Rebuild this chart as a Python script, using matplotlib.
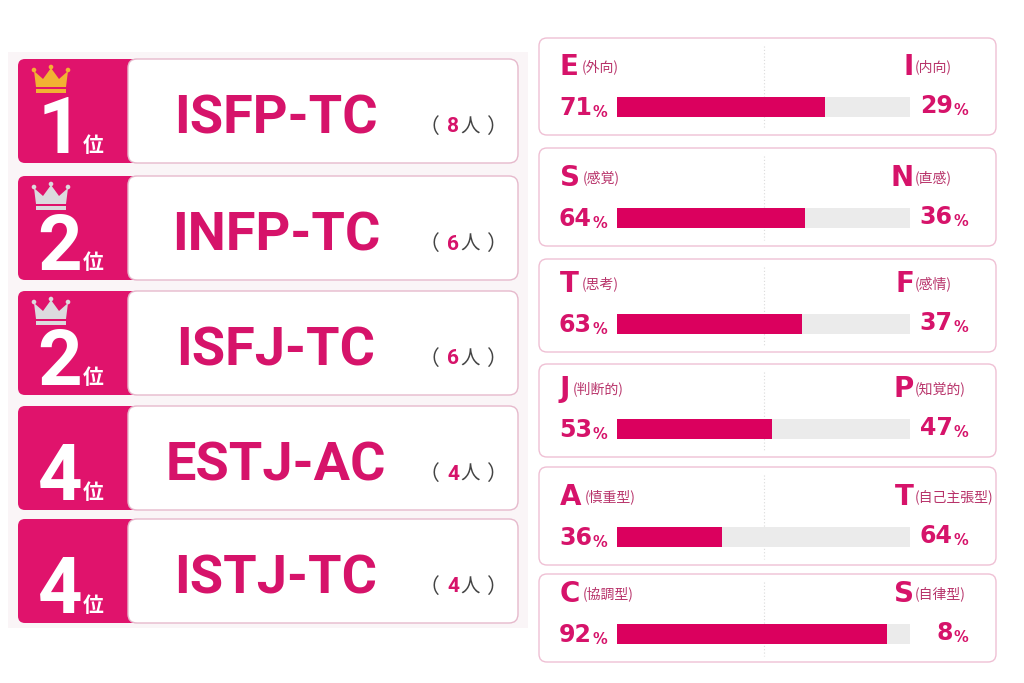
import matplotlib
matplotlib.use("Agg")
import matplotlib.pyplot as plt
from matplotlib.patches import FancyBboxPatch, Polygon, Circle, Rectangle

# ---------------- data ----------------
ranks = ["1", "2", "2", "4", "4"]
types = ["ISFP-TC", "INFP-TC", "ISFJ-TC", "ESTJ-AC", "ISTJ-TC"]
counts = [8, 6, 6, 4, 4]
crowns = ["gold", "silver", "silver", None, None]

left_letters = ["E", "S", "T", "J", "A", "C"]
left_labels = ["(外向)", "(感覚)", "(思考)", "(判断的)", "(慎重型)", "(協調型)"]
right_letters = ["I", "N", "F", "P", "T", "S"]
right_labels = ["(内向)", "(直感)", "(感情)", "(知覚的)", "(自己主張型)", "(自律型)"]
left_pct = [71, 64, 63, 53, 36, 92]
right_pct = [29, 36, 37, 47, 64, 8]

# ---------------- style ----------------
PINK = "#E0136C"
TXT_PINK = "#D6136A"
BAR_PINK = "#DB005E"
BAR_GRAY = "#EBEBEB"
LABEL_COL = "#B8336A"
CJK = ["Noto Sans CJK JP", "DejaVu Sans"]
BIG = ["Roboto", "DejaVu Sans"]

fig = plt.figure(figsize=(10.24, 6.83), dpi=100)
ax = fig.add_axes([0, 0, 1, 1])
ax.set_xlim(0, 1024)
ax.set_ylim(683, 0)
ax.axis("off")

# faint background behind ranking
ax.add_patch(Rectangle((8, 52), 520, 576, facecolor="#FAF5F7", edgecolor="none", zorder=0))

# ---------------- ranking cards ----------------
card_tops = [59, 176, 291, 406, 519]
card_h = 104
for i, (rk, tp, cnt, cr) in enumerate(zip(ranks, types, counts, crowns)):
    top = card_tops[i]
    ax.add_patch(FancyBboxPatch((18, top), 200, card_h, boxstyle="round,pad=0,rounding_size=7",
                                facecolor=PINK, edgecolor="none", zorder=1))
    ax.add_patch(FancyBboxPatch((128, top), 390, card_h, boxstyle="round,pad=0,rounding_size=9",
                                facecolor="white", edgecolor="#E6B9CC", linewidth=1.0, zorder=2))
    # crown
    if cr is not None:
        col = "#F2B233" if cr == "gold" else "#DCDBDE"
        cx, cy = 51, top + 9
        pts = [(cx - 15, cy + 19), (cx - 17, cy + 3), (cx - 8, cy + 11), (cx, cy), (cx + 8, cy + 11),
               (cx + 17, cy + 3), (cx + 15, cy + 19)]
        ax.add_patch(Polygon(pts, closed=True, facecolor=col, edgecolor="none", zorder=3))
        for (px, py) in [(cx - 17, cy + 2), (cx, cy - 1), (cx + 17, cy + 2)]:
            ax.add_patch(Circle((px, py), 2.3, facecolor=col, edgecolor="none", zorder=3))
        ax.add_patch(Polygon([(cx - 15, cy + 21), (cx + 15, cy + 21), (cx + 15, cy + 25), (cx - 15, cy + 25)],
                             closed=True, facecolor=col, edgecolor="none", zorder=3))
    # rank number
    ax.text(60, top + 94, rk, color="white", fontsize=56, fontweight="bold", family=BIG,
            ha="center", va="baseline", zorder=4)
    ax.text(93, top + 93, "位", color="white", fontsize=15, fontweight="bold", family=CJK,
            ha="center", va="baseline", zorder=4)
    # type name
    ax.text(276, top + 60, tp, color=TXT_PINK, fontsize=39, fontweight="bold", family=BIG,
            ha="center", va="center", zorder=4)
    # count
    yc = top + 68
    ax.text(429, yc, "（", color="#444444", fontsize=15, family=CJK, ha="center", va="center", zorder=4)
    ax.text(453, yc, str(cnt), color=TXT_PINK, fontsize=15, fontweight="bold", family=BIG,
            ha="center", va="center", zorder=4)
    ax.text(470, yc, "人", color="#444444", fontsize=14, family=CJK, ha="center", va="center", zorder=4)
    ax.text(496, yc, "）", color="#444444", fontsize=15, family=CJK, ha="center", va="center", zorder=4)

# ---------------- right panels ----------------
panel_tops = [38, 148, 259, 364, 467, 574]
panel_bots = [135, 246, 352, 457, 565, 662]
bar_x0, bar_w, bar_h = 617, 293, 20
for i in range(6):
    top, bot = panel_tops[i], panel_bots[i]
    ax.add_patch(FancyBboxPatch((539, top), 457, bot - top, boxstyle="round,pad=0,rounding_size=8",
                                facecolor="white", edgecolor="#EFC0D4", linewidth=1.0, zorder=1))
    yb = bot - 28
    yl = yb - 40
    ax.plot([bar_x0 + bar_w / 2] * 2, [top + 8, bot - 6], color="#DADADA", linestyle=(0, (1, 2)),
            linewidth=0.8, zorder=2)
    # bars via barh (values scaled by data)
    ax.barh([yb], [bar_w], left=bar_x0, height=bar_h, color=BAR_GRAY, zorder=3)
    ax.barh([yb], [left_pct[i] / 100 * bar_w], left=bar_x0, height=bar_h, color=BAR_PINK, zorder=4)
    # letters and labels
    t = ax.text(560, yl, left_letters[i], color=TXT_PINK, fontsize=20, fontweight="bold",
                ha="left", va="center", zorder=5)
    ax.annotate(left_labels[i], xy=(1, 0.5), xycoords=t, xytext=(2, 0), textcoords="offset points",
                color=LABEL_COL, fontsize=10, family=CJK, ha="left", va="center", zorder=5)
    ax.text(914, yl, right_letters[i], color=TXT_PINK, fontsize=20, fontweight="bold",
            ha="right", va="center", zorder=5)
    ax.text(915, yl, right_labels[i], color=LABEL_COL, fontsize=10, family=CJK,
            ha="left", va="center", zorder=5)
    # percentages
    p = ax.text(559, yb + 8, str(left_pct[i]), color=TXT_PINK, fontsize=17, fontweight="bold",
                ha="left", va="baseline", zorder=5)
    ax.annotate("%", xy=(1, 0), xycoords=p, xytext=(0.5, 0), textcoords="offset points",
                color=TXT_PINK, fontsize=10.5, fontweight="bold", ha="left", va="bottom", zorder=5)
    q = ax.text(968, yb + 8, "%", color=TXT_PINK, fontsize=10.5, fontweight="bold",
                ha="right", va="baseline", zorder=5)
    ax.annotate(str(right_pct[i]), xy=(0, 0), xycoords=q, xytext=(-0.5, 0), textcoords="offset points",
                color=TXT_PINK, fontsize=17, fontweight="bold", ha="right", va="bottom", zorder=5)

fig.savefig("out.png", dpi=100, facecolor="white")
